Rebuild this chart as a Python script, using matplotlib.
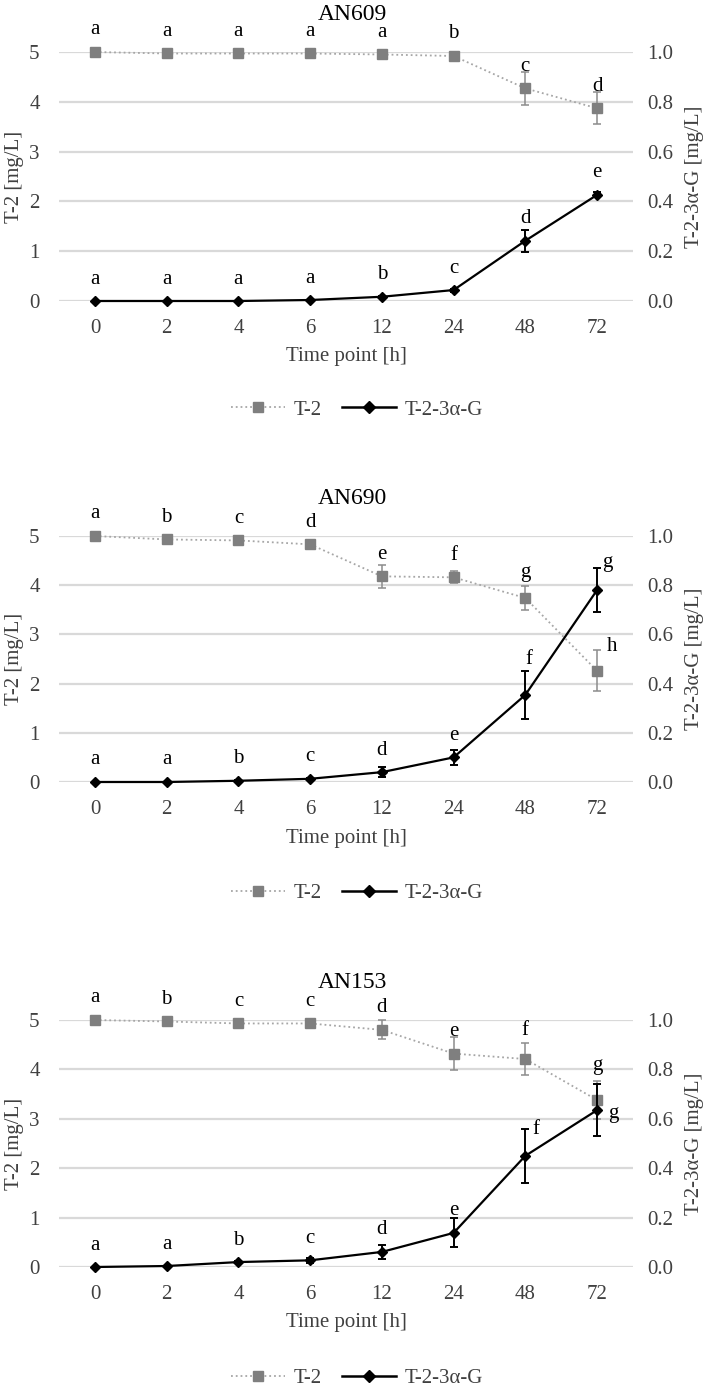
import numpy as np
import matplotlib
matplotlib.use('Agg')
import matplotlib.pyplot as plt
from matplotlib.lines import Line2D

# datos
hours = ['0', '2', '4', '6', '12', '24', '48', '72']

an609_t2 = [5.00, 4.97, 4.97, 4.97, 4.95, 4.92, 4.27, 3.87]
an609_t2_err = [0.02, 0.02, 0.02, 0.03, 0.03, 0.05, 0.33, 0.32]
an609_g = [0.000, 0.000, 0.000, 0.004, 0.017, 0.044, 0.242, 0.426]
an609_g_err = [0.0, 0.0, 0.0, 0.002, 0.004, 0.006, 0.045, 0.010]
an609_t2_let = ['a', 'a', 'a', 'a', 'a', 'b', 'c', 'd']
an609_g_let = ['a', 'a', 'a', 'a', 'b', 'c', 'd', 'e']

an690_t2 = [5.00, 4.93, 4.91, 4.83, 4.18, 4.16, 3.74, 2.26]
an690_t2_err = [0.02, 0.03, 0.04, 0.05, 0.23, 0.12, 0.24, 0.42]
an690_g = [0.000, 0.000, 0.005, 0.013, 0.040, 0.100, 0.354, 0.780]
an690_g_err = [0.0, 0.0, 0.002, 0.003, 0.020, 0.030, 0.096, 0.090]
an690_t2_let = ['a', 'b', 'c', 'd', 'e', 'f', 'g', 'h']
an690_g_let = ['a', 'a', 'b', 'c', 'd', 'e', 'f', 'g']

an153_t2 = [5.00, 4.97, 4.93, 4.93, 4.80, 4.32, 4.21, 3.38]
an153_t2_err = [0.02, 0.03, 0.03, 0.03, 0.19, 0.33, 0.32, 0.38]
an153_g = [0.000, 0.004, 0.020, 0.027, 0.061, 0.138, 0.450, 0.635]
an153_g_err = [0.0, 0.002, 0.004, 0.010, 0.027, 0.059, 0.110, 0.105]
an153_t2_let = ['a', 'b', 'c', 'c', 'd', 'e', 'f', 'g']
an153_g_let = ['a', 'a', 'b', 'c', 'd', 'e', 'f', 'g']

panels = [
    ('AN609', an609_t2, an609_t2_err, an609_g, an609_g_err, an609_t2_let, an609_g_let),
    ('AN690', an690_t2, an690_t2_err, an690_g, an690_g_err, an690_t2_let, an690_g_let),
    ('AN153', an153_t2, an153_t2_err, an153_g, an153_g_err, an153_t2_let, an153_g_let),
]
# posicion vertical de cada panel (px: linea de 5 y linea de 0)
panel_px = [(52, 301), (536, 782), (1020, 1267)]
legend_px = [410, 893, 1378]
# ajustes manuales de letras (dx, dy en px)
t2_nudge = [{}, {6: (0, 25), 7: (15, 24)}, {6: (0, 29), 7: (0, 35)}]
g_nudge = [{}, {6: (4, 35), 7: (10, 28)}, {6: (11, 26), 7: (16, -3)}]

W, H = 708, 1388
plt.rcParams['font.family'] = ['Liberation Serif', 'DejaVu Serif']
fig = plt.figure(figsize=(W / 100, H / 100), dpi=100)

gray = '#7f7f7f'
dark = '#404040'
fs = 15
x = np.arange(len(hours))
left, right = 59.1, 632.9

for i, p in enumerate(panels):
    title, t2, t2e, g, ge, t2l, gl = p
    ytop, ybot = panel_px[i]
    ax = fig.add_axes([left / W, 1 - ybot / H, (right - left) / W, (ybot - ytop) / H])
    ax2 = ax.twinx()
    ax.set_xlim(-0.5, 7.5)
    ax.set_ylim(0, 5)
    ax2.set_ylim(0, 1)
    ax.set_yticks(range(6))
    ax2.set_yticks(np.arange(0, 1.01, 0.2))
    ax2.set_yticklabels(['%.1f' % v for v in np.arange(0, 1.01, 0.2)])
    ax.set_xticks(x)
    ax.set_xticklabels(hours)
    ax.grid(axis='y', color='#d9d9d9', linewidth=1.6)
    ax.set_axisbelow(True)
    for a in (ax, ax2):
        for s in a.spines.values():
            s.set_visible(False)
        a.tick_params(length=0, labelsize=fs, labelcolor=dark)
    ax.tick_params(axis='y', pad=14)
    ax.tick_params(axis='x', pad=13)
    ax2.tick_params(axis='y', pad=10)

    # T-2 (eje izquierdo)
    ax.errorbar(x, t2, yerr=t2e, color='#a6a6a6', ecolor='#8c8c8c', elinewidth=1.1,
                capsize=3, capthick=1.1, linestyle=':', linewidth=1.3, marker='s',
                markersize=6.5, markerfacecolor=gray, markeredgecolor=gray,
                clip_on=False, zorder=3)
    # T-2-3a-G (eje derecho)
    ax2.errorbar(x, g, yerr=ge, color='black', ecolor='black', elinewidth=1.4,
                 capsize=3, capthick=1.4, linestyle='-', linewidth=1.6, marker='D',
                 markersize=5.5, clip_on=False, zorder=4)

    # letras de significancia
    for j in range(len(x)):
        dx, dy = t2_nudge[i].get(j, (0, 22))
        ax.annotate(t2l[j], (x[j], t2[j]), xytext=(dx, dy),
                    textcoords='offset pixels', ha='center', va='center',
                    fontsize=fs, color='black', annotation_clip=False)
        dx, dy = g_nudge[i].get(j, (0, 22))
        ax2.annotate(gl[j], (x[j], g[j]), xytext=(dx, dy),
                     textcoords='offset pixels', ha='center', va='center',
                     fontsize=fs, color='black', annotation_clip=False)

    fig.text(352 / W, 1 - (ytop - 37) / H, title, ha='center', va='center',
             fontsize=17, color='black')
    fig.text(15 / W, 1 - (ytop + ybot) / 2 / H, 'T-2 [mg/L]', rotation=90,
             ha='center', va='center', fontsize=fs, color=dark)
    fig.text(695 / W, 1 - (ytop + ybot) / 2 / H, 'T-2-3α-G [mg/L]', rotation=90,
             ha='center', va='center', fontsize=fs, color=dark)
    fig.text(346 / W, 1 - (ybot + 56) / H, 'Time point [h]', ha='center',
             va='center', fontsize=fs, color=dark)

    h1 = Line2D([], [], color='#a6a6a6', linestyle=':', linewidth=1.3, marker='s',
                markersize=7, markerfacecolor=gray, markeredgecolor=gray)
    h2 = Line2D([], [], color='black', linewidth=1.8, marker='D', markersize=6)
    fig.legend([h1, h2], ['T-2', 'T-2-3α-G'], loc='center',
               bbox_to_anchor=(357 / W, 1 - legend_px[i] / H), ncol=2,
               frameon=False, fontsize=fs, handlelength=2.6, columnspacing=1.0,
               handletextpad=0.4, labelcolor=dark)

fig.savefig('out.png', dpi=100)
